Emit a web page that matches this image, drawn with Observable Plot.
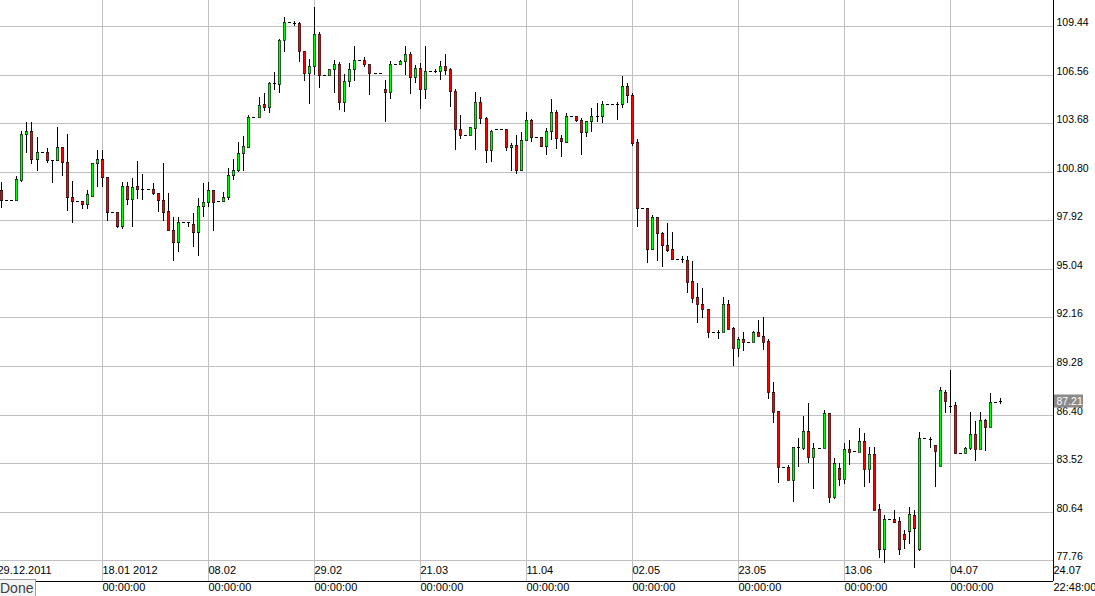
<!DOCTYPE html>
<html><head><meta charset="utf-8">
<script src="https://cdn.jsdelivr.net/npm/d3@7"></script>
<script src="https://cdn.jsdelivr.net/npm/@observablehq/plot@0.6"></script>
<style>
html,body{margin:0;padding:0;background:#fff;}
#wrap{position:relative;width:1095px;height:596px;overflow:hidden;background:#fff;}
#wrap svg{display:block;}
#done{position:absolute;left:-1px;top:579px;width:37px;height:18px;box-sizing:border-box;background:#f4f4f4;border:1px solid #a0a0a0;font:14px "Liberation Sans",Arial,sans-serif;color:#404040;line-height:16px;white-space:nowrap;}
</style></head><body>
<div id="wrap"><div id="done">Done</div></div>
<script>
// first bar date; one bar per calendar day
const startDate = "2011-12-29";

const open = [
 99.72, 99.12, 99.12, 99.12,100.31,103.02,103.19,101.53,101.95,101.95,
101.47,101.47,102.27,101.36, 99.32, 99.04, 99.04, 98.89, 99.38,101.30,
101.53,100.49, 98.39, 98.39, 97.60, 99.95, 99.20, 99.95, 99.79, 99.79,
 99.75, 99.56, 99.10, 98.47, 97.36, 96.65, 97.82, 97.82, 97.68, 97.21,
 98.75, 99.00, 99.70, 99.04, 99.04, 99.30,100.59,100.88,101.89,102.28,
104.06,104.06,104.80,104.66,106.04,105.98,108.59,109.66,109.64,109.60,
107.98,106.63,107.05,108.97,106.51,106.51,106.87,107.17,104.91,106.18,
106.87,107.40,107.40,107.17,106.63,106.63,105.68,105.51,107.17,107.17,
107.35,107.76,106.40,106.93,105.68,106.75,106.75,106.75,107.05,106.89,
105.57,103.31,102.96,102.96,103.41,104.91,103.97,102.07,103.31,103.31,
103.31,102.24,102.36,100.92,102.66,103.85,102.86,102.86,102.35,103.21,
104.32,102.78,102.56,104.10,104.10,103.85,103.13,103.79,104.08,104.08,
104.79,104.79,104.81,104.83,105.88,105.37,102.56, 98.63, 98.63, 96.23,
 98.11, 97.15, 96.44, 96.20, 95.60, 95.60, 95.55, 94.32, 93.37, 92.94,
 92.64, 91.31, 91.31, 91.28, 92.94, 91.51, 90.33, 90.86, 90.72, 90.72,
 91.31, 91.08, 90.76, 87.72, 86.61, 83.29, 83.29, 82.50, 84.46, 84.42,
 85.43, 83.90, 84.40, 84.40, 86.49, 81.53, 83.25, 82.60, 84.36, 84.24,
 84.20, 84.83, 83.15, 84.06, 80.80, 78.41, 80.19, 80.21, 80.07, 79.32,
 79.48, 80.45, 78.43, 84.99, 84.95, 84.58, 83.37, 87.74, 86.93, 86.95,
 84.14, 84.14, 84.40, 85.23, 84.34, 86.06, 85.68, 87.13, 87.21
];
const high = [
100.17, 99.12, 99.12,100.55,103.21,103.75,103.75,102.86,101.95,102.19,
101.50,103.45,102.27,103.04,100.25, 99.04, 99.04, 99.72,101.30,102.09,
102.09,100.49, 98.39, 98.39,100.21,100.21,100.43,101.43,100.66, 99.79,
100.11, 99.56,101.30, 99.56, 98.11, 98.09, 97.82, 97.82, 98.33, 99.22,
100.13,100.17, 99.70, 99.04, 99.60,101.00,101.53,102.54,102.92,104.16,
104.06,105.21,105.45,106.14,106.71,108.69,109.99,109.66,109.76,109.66,
107.98,107.46,110.59,109.08,106.51,106.89,107.42,107.31,106.59,107.23,
108.25,107.40,107.58,107.17,106.63,106.63,106.24,107.35,107.17,107.42,
108.25,107.92,107.13,107.23,108.25,106.75,106.89,107.37,107.78,106.93,
105.68,104.16,102.96,103.45,105.53,105.25,104.04,103.27,103.31,103.31,
103.31,102.48,102.98,103.13,104.34,103.95,102.86,102.86,103.41,105.11,
104.46,102.98,104.26,104.10,104.10,103.97,103.83,104.56,104.89,104.99,
104.79,104.79,104.95,106.47,106.04,105.45,102.72, 98.63, 98.63, 98.22,
 98.11, 97.21, 97.74, 97.21, 95.60, 95.80, 95.80, 95.49, 94.18, 93.89,
 92.64, 91.31, 91.41, 93.37, 93.19, 91.61, 91.02, 91.31, 90.72, 91.37,
 92.01, 92.20, 90.86, 88.35, 86.61, 83.29, 83.41, 84.46, 84.99, 86.31,
 87.10, 84.70, 84.40, 86.67, 86.49, 83.81, 83.51, 84.70, 84.89, 84.24,
 85.60, 85.29, 84.46, 84.46, 81.10, 80.45, 80.19, 80.74, 80.35, 79.56,
 80.92, 80.74, 85.35, 84.99, 85.09, 84.58, 88.05, 87.86, 89.04, 87.16,
 84.14, 84.50, 86.57, 86.02, 86.57, 86.12, 87.70, 87.13, 87.38
];
const low = [
 98.63, 99.12, 99.12, 99.12,100.19,101.89,101.26,100.86,101.95,101.34,
100.11,101.43,100.57, 98.49, 97.74, 99.04, 98.61, 98.61, 99.38, 99.87,
 99.87, 97.90, 98.39, 97.48, 97.40, 98.83, 97.54, 99.20, 99.12, 99.79,
 99.40, 98.43, 97.90, 97.36, 95.49, 96.02, 97.82, 97.54, 96.36, 95.82,
 98.09, 98.69, 97.30, 99.04, 99.04, 99.10,100.29,100.76,100.86,102.28,
104.06,104.06,104.42,104.30,105.65,105.49,107.92,109.66,109.46,107.29,
106.18,104.83,106.53,105.78,106.51,106.51,105.49,104.48,104.36,105.80,
106.16,107.40,107.03,105.37,106.63,106.63,103.77,105.13,107.17,107.17,
106.53,105.39,106.08,104.50,105.13,106.75,106.63,106.22,106.51,104.66,
102.11,102.76,102.96,102.96,102.07,103.63,101.34,101.40,103.31,103.31,
102.05,100.82,100.68,100.86,102.66,102.58,102.86,102.29,101.81,102.66,
102.15,101.69,102.48,104.10,103.75,101.81,102.84,103.13,103.77,103.71,
104.79,104.79,103.89,104.56,104.89,102.33, 97.54, 98.63, 95.37, 96.14,
 95.52, 95.17, 96.06, 95.60, 95.60, 95.37, 93.63, 93.03, 91.81, 92.11,
 90.96, 91.31, 90.86, 91.28, 91.41, 89.30, 89.83, 90.19, 90.72, 90.72,
 91.02, 90.23, 87.31, 85.88, 82.32, 83.29, 82.50, 81.23, 83.31, 84.30,
 83.51, 82.00, 84.40, 84.40, 81.14, 81.38, 82.18, 82.30, 83.43, 84.24,
 84.20, 82.09, 82.32, 80.74, 77.91, 77.58, 80.19, 79.95, 78.05, 78.41,
 78.71, 77.29, 78.33, 84.99, 84.40, 82.12, 83.37, 86.51, 86.51, 84.04,
 84.14, 84.14, 84.30, 83.65, 84.34, 84.26, 85.68, 87.13, 87.03
];
const close = [
 99.12, 99.12, 99.12,100.35,103.02,103.19,101.53,101.95,101.95,101.47,
101.47,102.27,101.36, 99.32, 99.04, 99.04, 98.89, 99.46,101.30,101.53,
100.51, 98.39, 98.39, 97.60, 99.95, 99.20, 99.87, 99.79, 99.79, 99.79,
 99.52, 99.10, 98.43, 97.36, 96.65, 97.82, 97.82, 97.82, 97.21, 98.75,
 99.00, 99.70, 99.00, 99.04, 99.30,100.59,100.88,101.89,102.32,104.06,
104.06,104.78,104.66,106.04,106.04,108.59,109.66,109.66,109.64,107.98,
106.63,107.05,108.97,106.51,106.51,106.89,107.17,104.91,106.18,106.87,
107.40,107.40,107.17,106.63,106.63,106.63,105.51,107.17,107.17,107.35,
107.76,106.40,106.93,105.68,106.75,106.75,106.75,107.05,106.85,105.57,
103.31,102.96,102.96,103.45,104.91,103.97,102.07,103.23,103.31,103.31,
102.24,102.36,100.92,102.66,103.85,102.86,102.86,102.35,103.21,104.32,
102.78,102.60,104.10,104.10,103.85,103.13,103.79,104.08,104.08,104.79,
104.79,104.79,104.81,105.88,105.33,102.52, 98.63, 98.63, 96.23, 98.11,
 97.15, 96.44, 96.16, 95.60, 95.60, 95.60, 94.28, 93.33, 92.94, 92.64,
 91.31, 91.31, 91.31, 92.94, 91.49, 90.33, 90.86, 90.72, 90.72, 91.31,
 91.08, 90.72, 87.72, 86.57, 83.29, 83.29, 82.50, 84.46, 84.46, 85.43,
 83.90, 84.40, 84.40, 86.49, 81.53, 83.51, 82.60, 84.36, 84.20, 84.24,
 84.83, 83.15, 84.08, 80.74, 78.43, 80.19, 80.19, 80.05, 78.43, 79.04,
 80.51, 79.69, 84.99, 84.99, 84.95, 84.26, 87.84, 87.22, 86.93, 84.14,
 84.14, 84.40, 85.23, 84.34, 86.06, 85.68, 87.13, 87.13, 87.21
];

const yTicks = [77.76, 80.64, 83.52, 86.40, 89.28, 92.16, 95.04, 97.92, 100.80, 103.68, 106.56, 109.44];
const xTickDates = ["2012-01-18","2012-02-08","2012-02-29","2012-03-21","2012-04-11","2012-05-02","2012-05-23","2012-06-13","2012-07-04"];
const xTickLabels = ["18.01 2012","08.02","29.02","21.03","11.04","02.05","23.05","13.06","04.07"];
const xTimeLabel = "00:00:00";
const leftEdgeLabel = "29.12.2011";
const rightEdgeLabel = "24.07";
const rightEdgeTime = "22:48:00";

const xDomain = [new Date("2011-12-28T18:17Z"), new Date("2012-07-24T11:30Z")];
const yDomain = [76.53, 110.98];

const t0 = new Date(startDate + "T00:00Z");
const bars = open.map((o, i) => ({
  date: d3.utcDay.offset(t0, i), o, h: high[i], l: low[i], c: close[i]
}));
const bodies = bars.filter(d => d.o !== d.c);
const flats = bars.filter(d => d.o === d.c);
const tickDates = xTickDates.map(s => new Date(s + "T00:00Z"));
const lastClose = close[close.length - 1];
const rightEdge = () => xDomain[1];

const FONT = "'Liberation Sans', Arial, sans-serif";
const UP = "#00ff00", DOWN = "#ff0000";

const chart = Plot.plot({
  width: 1095, height: 596,
  marginTop: 0, marginLeft: 0, marginRight: 42, marginBottom: 15,
  x: {type: "utc", domain: xDomain, round: true, axis: null},
  y: {domain: yDomain, round: true, axis: null},
  style: {fontFamily: FONT, background: "#fff", overflow: "visible", color: "#000"},
  marks: [
    Plot.ruleY(yTicks, {stroke: "#c0c0c0"}),
    Plot.ruleX(tickDates, {stroke: "#c0c0c0"}),
    // frame: right and bottom
    Plot.ruleX([xDomain[1]], {stroke: "#000"}),
    Plot.ruleY([yDomain[0]], {stroke: "#000"}),
    // date labels inside the frame, times below
    Plot.text(tickDates, {x: d => d, frameAnchor: "bottom", dy: -8, text: xTickLabels, textAnchor: "start", fontSize: 11, fill: "#000"}),
    Plot.text(tickDates, {x: d => d, frameAnchor: "bottom", dy: 9, text: () => xTimeLabel, textAnchor: "start", fontSize: 11, fill: "#000"}),
    Plot.text([leftEdgeLabel], {x: () => xDomain[0], frameAnchor: "bottom", dy: -8, dx: -3, text: d => d, textAnchor: "start", fontSize: 11, fill: "#000"}),
    Plot.text([rightEdgeLabel], {x: rightEdge, frameAnchor: "bottom", dy: -8, text: d => d, textAnchor: "start", fontSize: 11, fill: "#000"}),
    Plot.text([rightEdgeTime], {x: rightEdge, frameAnchor: "bottom", dy: 9, text: d => d, textAnchor: "start", fontSize: 11, fill: "#000"}),
    // price axis labels (right)
    Plot.text(yTicks, {x: rightEdge, y: d => d, text: d => d.toFixed(2), textAnchor: "start", lineAnchor: "bottom", dx: 3, dy: -1, fontSize: 10.5, fill: "#000"}),
    // candles: wicks, bodies (thin outline so the colour shows), flat bars
    Plot.ruleX(bars, {x: "date", y1: "l", y2: "h", stroke: "#000"}),
    Plot.rect(bodies, {x1: "date", x2: "date", y1: "o", y2: "c",
      insetLeft: -0.7, insetRight: -1.7, insetTop: 0.3, insetBottom: -0.7,
      fill: d => d.c > d.o ? UP : DOWN, stroke: "#000", strokeWidth: 0.6}),
    Plot.rect(flats, {x1: "date", x2: "date", y1: "c", y2: "c",
      insetLeft: -1, insetRight: -2, insetTop: 0, insetBottom: -1, fill: "#000"}),
    // last price box
    Plot.rect([lastClose], {x1: rightEdge, x2: rightEdge, y1: d => d, y2: d => d, insetLeft: 1, insetRight: -30, insetTop: -6.5, insetBottom: -6.5, fill: "#8a8a8a"}),
    Plot.text([lastClose], {x: rightEdge, y: d => d, text: d => d.toFixed(2), textAnchor: "start", dx: 3, fontSize: 10.5, fill: "#fff"})
  ]
});
const wrap = document.getElementById("wrap");
wrap.insertBefore(chart, wrap.firstChild);
</script>
</body></html>
